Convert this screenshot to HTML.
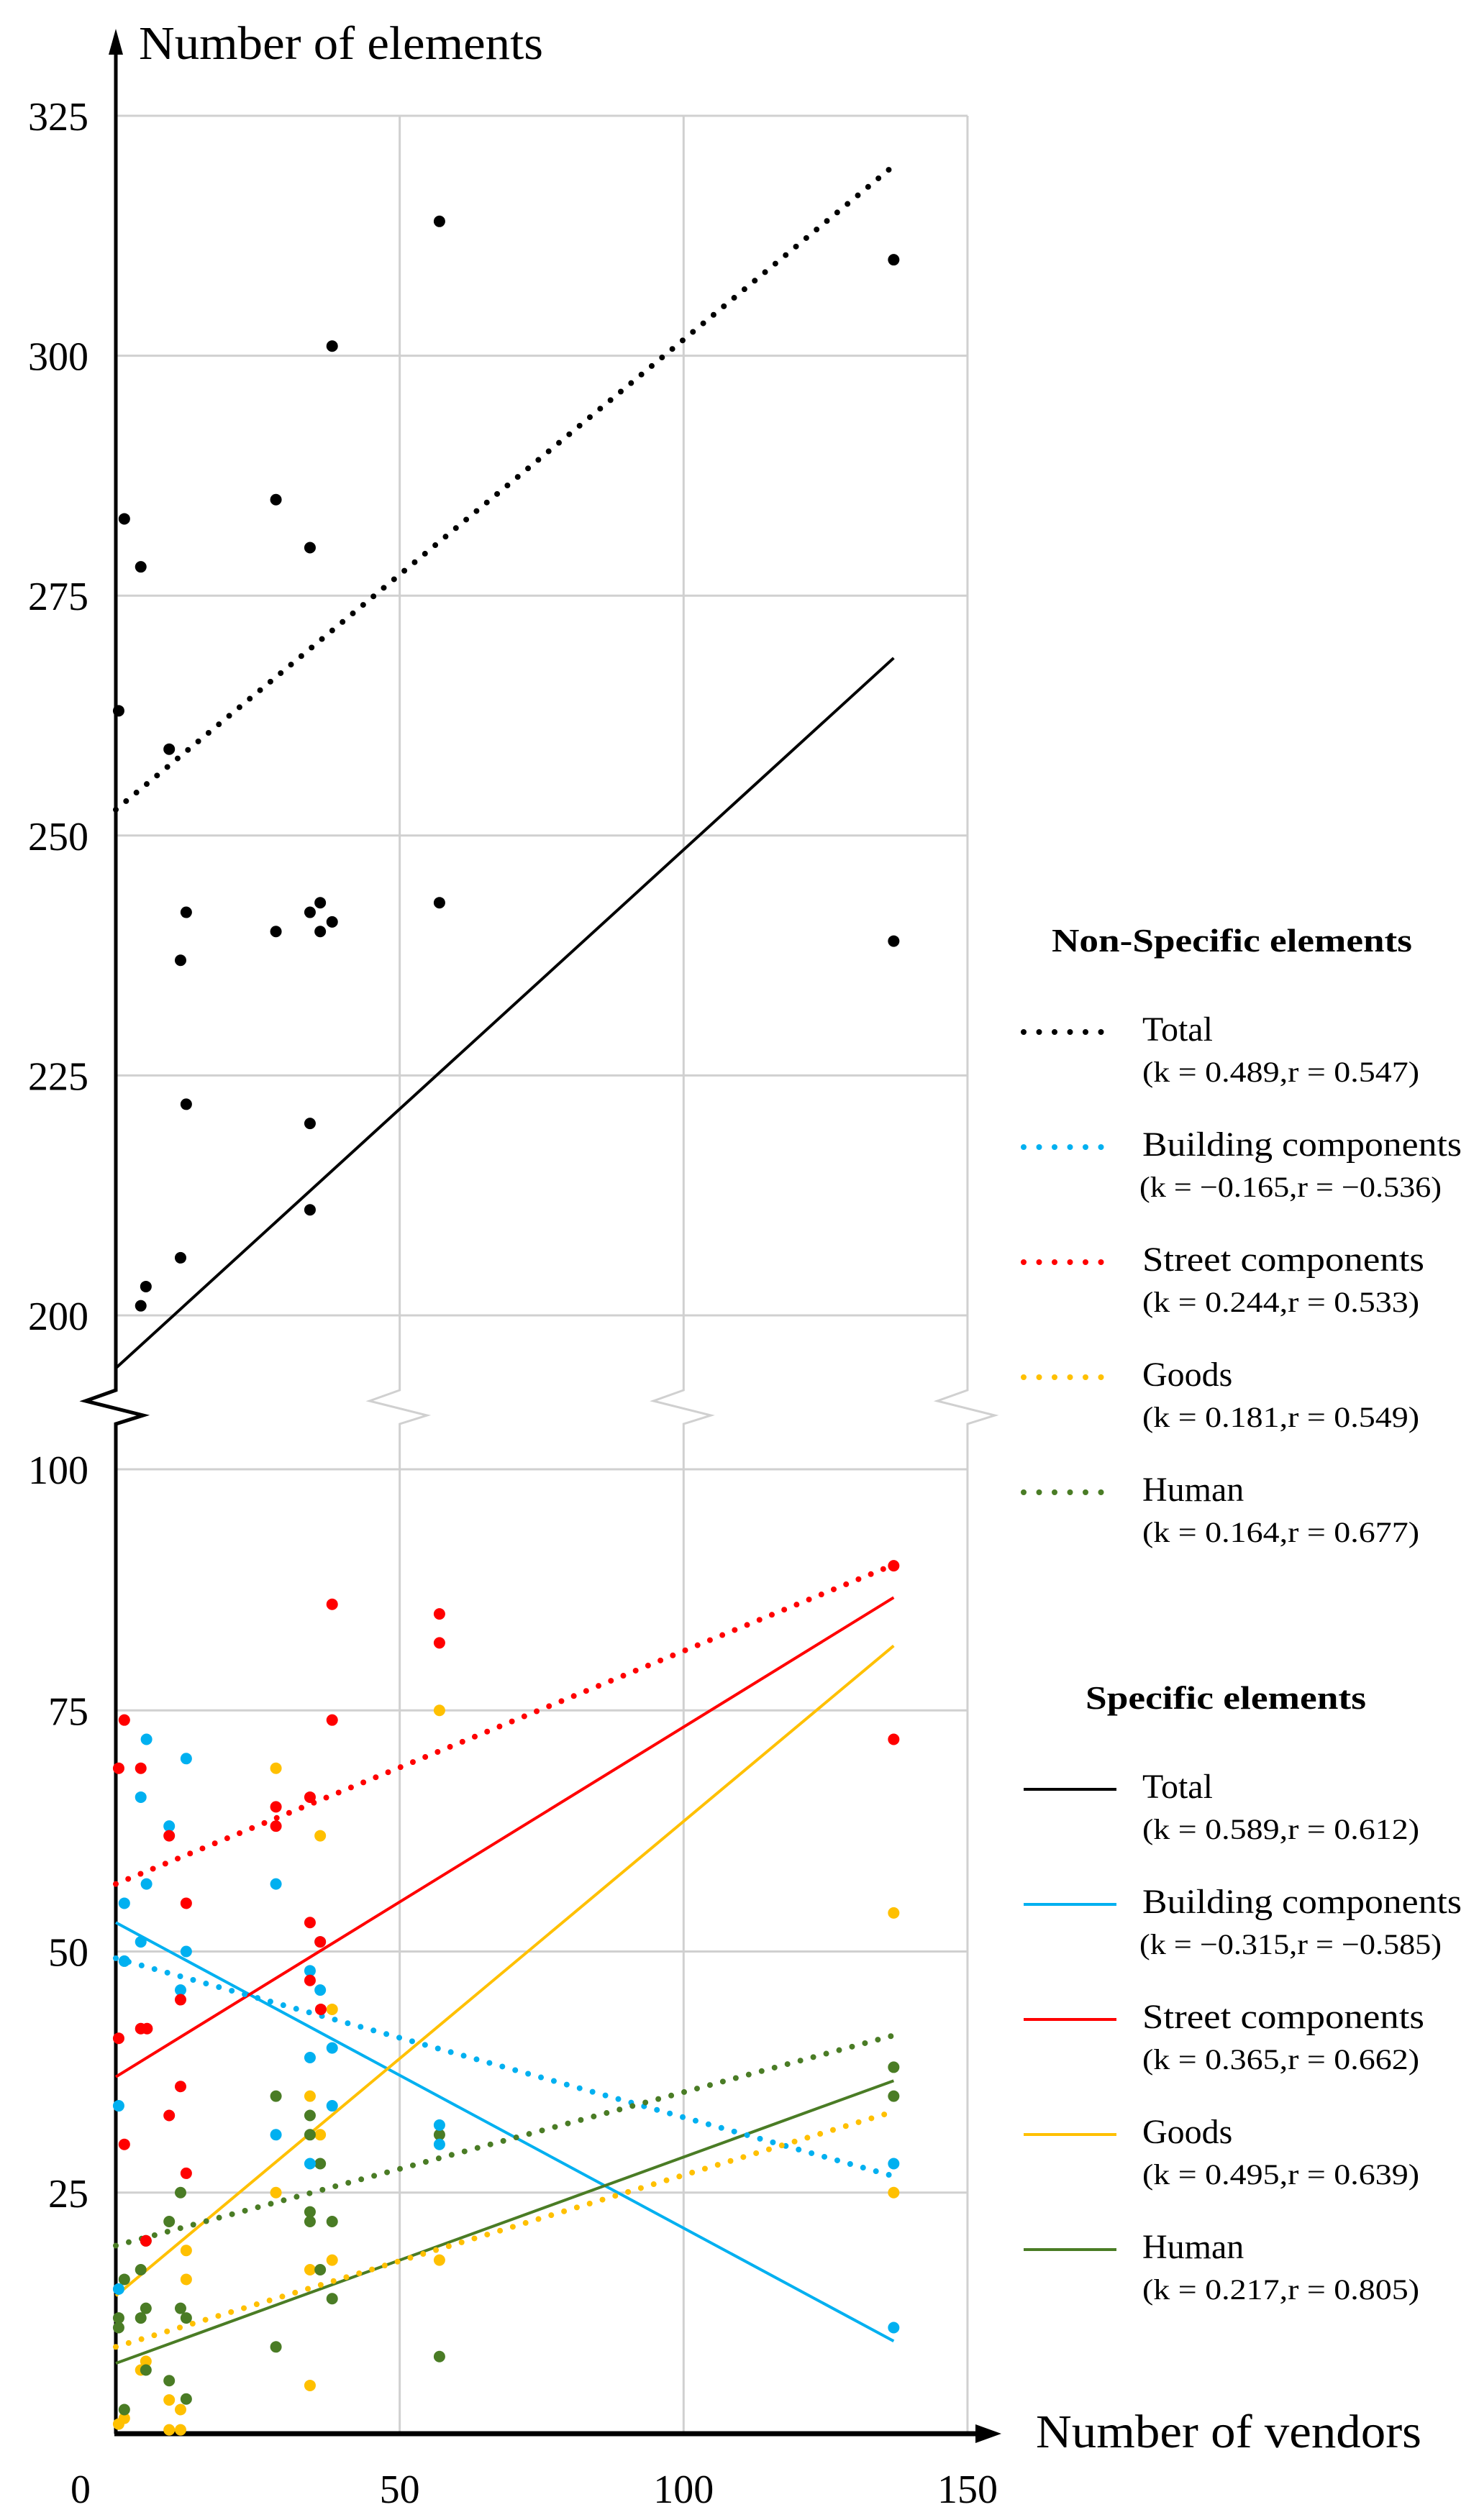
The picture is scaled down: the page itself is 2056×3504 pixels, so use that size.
<!DOCTYPE html>
<html><head><meta charset="utf-8"><style>
html,body{margin:0;padding:0;background:#fff}
svg{display:block}
text{font-family:"Liberation Serif",serif;fill:#000}
</style></head>
<body>
<svg id="chart" width="2056" height="3504" viewBox="0 0 2056 3504" xmlns="http://www.w3.org/2000/svg">
<g id="grid"></g>
<g id="axes"></g>
<g id="trends"></g>
<g id="points"></g>
<g id="legend"></g>
</svg>
<script>
// ---- data ----
const xTicks = [0, 50, 100, 150];
const upperYTicks = [325, 300, 275, 250, 225, 200];
const lowerYTicks = [100, 75, 50, 25];
const trendX = [0, 137];

const totalX = [0.5,1.5,4.4,9.4,4.4,5.3,11.4,11.4,12.4,12.4,28.2,28.2,34.2,34.2,34.2,34.2,36,36,38.1,38.1,57,57,137,137];
const totalY = [263,283,278,259,201,203,206,237,242,222,285,240,280,242,220,211,243,240,301,241,314,243,310,239];

const streetX = [38.1,57,57,1.5,38.1,0.5,4.4,28.2,34.2,28.2,9.4,12.4,34.2,34.2,36,11.4,4.4,5.5,0.5,36.1,11.4,9.4,1.5,12.4,5.3,137,137];
const streetY = [86,85,82,74,74,69,69,65,66,63,62,55,53,47,51,45,42,42,41,44,36,33,30,27,20,72,90];

const buildingX = [5.4,12.4,4.4,9.4,5.4,28.2,1.5,4.4,12.4,1.5,36,34.2,36,11.4,38.1,34.2,0.5,38.1,28.2,34.2,57,57,0.5,137,137];
const buildingY = [72,70,66,63,57,57,55,51,50,49,51,48,46,46,40,39,34,34,31,28,32,30,15,28,11];

const goodsX = [57,28.2,36,38.1,34.2,36,28.2,12.4,12.4,34.2,38.1,57,5.3,4.4,34.2,9.4,11.4,1.5,0.5,9.4,11.4,137,137];
const goodsY = [75,69,62,44,35,31,25,19,16,17,18,18,7.5,6.6,5,3.5,2.5,1.6,1,0.4,0.4,54,25];

const humanX = [28.2,34.2,34.2,36,11.4,9.4,34.2,34.2,38.1,57,4.4,1.5,36,5.3,11.4,4.4,12.4,0.5,0.5,38.1,28.2,57,5.3,9.4,12.4,1.5,5.3,137,137];
const humanY = [35,33,31,28,25,22,23,22,22,31,17,16,17,13,13,12,12,12,11,14,9,8,6.6,5.5,3.6,2.5,20,38,35];

// trend line values at trendX[0], trendX[1]
const upperTotalDotted = [252.7, 319.8];
const upperTotalSolid = [194.5, 268.5];
const streetDotted = [57.0, 90.1];
const streetSolid = [37.0, 86.7];
const buildingDotted = [49.3, 26.7];
const buildingSolid = [53.0, 9.6];
const goodsDotted = [9.0, 33.4];
const goodsSolid = [14.3, 81.7];
const humanDotted = [19.5, 41.3];
const humanSolid = [7.3, 36.6];

const legendNonSpecific = ["Total","Building components","Street components","Goods","Human"];
const legendNonSpecificStats = ["(k = 0.489,r = 0.547)","(k = \u22120.165,r = \u22120.536)","(k = 0.244,r = 0.533)","(k = 0.181,r = 0.549)","(k = 0.164,r = 0.677)"];
const legendSpecificStats = ["(k = 0.589,r = 0.612)","(k = \u22120.315,r = \u22120.585)","(k = 0.365,r = 0.662)","(k = 0.495,r = 0.639)","(k = 0.217,r = 0.805)"];

// ---- scales ----
const NS = "http://www.w3.org/2000/svg";
const X0 = 161, XPER = 7.893;
const sx = v => X0 + v * XPER;
const syU = v => 161 + (325 - v) * 13.344;
const syL = v => 3384 - v * 13.41;
const BREAK_TOP = 1933, BREAK_BOT = 1980, AXIS_Y = 3384;
const COL = {black:"#000", blue:"#00b0f0", red:"#ff0000", yellow:"#ffc000", green:"#4a7c25"};

function mk(tag, attrs, parent) {
  const e = document.createElementNS(NS, tag);
  for (const k in attrs) e.setAttribute(k, attrs[k]);
  parent.appendChild(e);
  return e;
}
const grid = document.getElementById('grid');
const axes = document.getElementById('axes');
const trends = document.getElementById('trends');
const points = document.getElementById('points');
const legend = document.getElementById('legend');

// ---- gridlines ----
upperYTicks.forEach(v => {
  const l = mk('line', {x1: X0, x2: sx(150), y1: syU(v), y2: syU(v), stroke: '#d0d0d0', 'stroke-width': 3}, grid);
  
  
  const t = mk('text', {x: 123, y: syU(v) + 20, 'text-anchor': 'end', 'font-size': 56}, axes);
  t.textContent = v;
  
  
});
lowerYTicks.forEach(v => {
  const l = mk('line', {x1: X0, x2: sx(150), y1: syL(v), y2: syL(v), stroke: '#d0d0d0', 'stroke-width': 3}, grid);
  
  
  const t = mk('text', {x: 123, y: syL(v) + 20, 'text-anchor': 'end', 'font-size': 56}, axes);
  t.textContent = v;
  
  
});
xTicks.forEach(v => {
  const x = sx(v);
  if (v > 0) {
    const p = mk('path', {d: `M${x},${syU(325)} L${x},${BREAK_TOP} L${x-42},${BREAK_TOP+15} L${x+38},${BREAK_BOT-12} L${x},${BREAK_BOT} L${x},${AXIS_Y}`, fill: 'none', stroke: '#d0d0d0', 'stroke-width': 3}, grid);
    
    
  }
  const t = mk('text', {x: v === 0 ? 112 : x, y: 3480, 'text-anchor': 'middle', 'font-size': 56}, axes);
  t.textContent = v;
  
  
});

// ---- axes ----
const ya = mk('path', {d: `M${X0},${AXIS_Y} L${X0},${BREAK_BOT} L${X0+38},${BREAK_BOT-12} L${X0-42},${BREAK_TOP+15} L${X0},${BREAK_TOP} L${X0},70`, fill: 'none', stroke: '#000', 'stroke-width': 5}, axes);


const yh = mk('polygon', {points: `${X0},40 ${X0-10},76 ${X0+10},76`, fill: '#000'}, axes);


const xa = mk('line', {x1: X0 - 2, x2: 1362, y1: AXIS_Y, y2: AXIS_Y, stroke: '#000', 'stroke-width': 7}, axes);


const xh = mk('polygon', {points: `1392,${AXIS_Y} 1356,${AXIS_Y-13} 1356,${AXIS_Y+13}`, fill: '#000'}, axes);


const yt = mk('text', {x: 193, y: 82, 'font-size': 66, textLength: 562, lengthAdjust: 'spacingAndGlyphs'}, axes);
yt.textContent = 'Number of elements';


const xt = mk('text', {x: 1440, y: 3403, 'font-size': 66, textLength: 536, lengthAdjust: 'spacingAndGlyphs'}, axes);
xt.textContent = 'Number of vendors';



// ---- trend lines ----
function trend(vals, sy, color, dotted, name) {
  const a = {x1: sx(trendX[0]), y1: sy(vals[0]), x2: sx(trendX[1]), y2: sy(vals[1]), stroke: color};
  if (dotted) { a['stroke-width'] = 8; a['stroke-linecap'] = 'round'; a['stroke-dasharray'] = '0 18.6'; }
  else { a['stroke-width'] = 4; }
  const l = mk('line', a, trends);
  
  
}
trend(upperTotalSolid, syU, COL.black, false, 'trend-total-specific');
trend(upperTotalDotted, syU, COL.black, true, 'trend-total-nonspecific');
trend(buildingSolid, syL, COL.blue, false, 'trend-building-specific');
trend(streetSolid, syL, COL.red, false, 'trend-street-specific');
trend(goodsSolid, syL, COL.yellow, false, 'trend-goods-specific');
trend(humanSolid, syL, COL.green, false, 'trend-human-specific');
trend(streetDotted, syL, COL.red, true, 'trend-street-nonspecific');
trend(buildingDotted, syL, COL.blue, true, 'trend-building-nonspecific');
trend(goodsDotted, syL, COL.yellow, true, 'trend-goods-nonspecific');
trend(humanDotted, syL, COL.green, true, 'trend-human-nonspecific');

// ---- points ----
function pts(xs, ys, sy, color, name) {
  xs.forEach((x, i) => {
    const c = mk('circle', {cx: sx(x), cy: sy(ys[i]), r: 8, fill: color}, points);
    
    
  });
}
pts(totalX, totalY, syU, COL.black, 'total');
pts(goodsX, goodsY, syL, COL.yellow, 'goods');
pts(humanX, humanY, syL, COL.green, 'human');
pts(buildingX, buildingY, syL, COL.blue, 'building');
pts(streetX, streetY, syL, COL.red, 'street');

// ---- legend ----
const legendColors = [COL.black, COL.blue, COL.red, COL.yellow, COL.green];
const statWidths = [385, 420, 385, 385, 385];
const labelWidths = [null, 444, 392, null, null];
function legendBlock(title, titleX, titleW, titleY, dotted, stats, prefix) {
  const h = mk('text', {x: titleX, y: titleY, 'font-size': 46, 'font-weight': 'bold', textLength: titleW, lengthAdjust: 'spacingAndGlyphs'}, legend);
  h.textContent = title;
  
  
  legendNonSpecific.forEach((lab, i) => {
    const ly = titleY + 112 + i * 160;
    const a = {x1: 1423, x2: 1552, y1: ly, y2: ly, stroke: legendColors[i]};
    if (dotted) { a['stroke-width'] = 8; a['stroke-linecap'] = 'round'; a['stroke-dasharray'] = '0 21.5'; }
    else { a['stroke-width'] = 4; }
    const l = mk('line', a, legend);
    
    
    const ta = {x: 1588, y: ly + 12, 'font-size': 48};
    if (labelWidths[i]) { ta.textLength = labelWidths[i]; ta.lengthAdjust = 'spacingAndGlyphs'; }
    const t = mk('text', ta, legend);
    t.textContent = lab;
    
    
    const s = mk('text', {x: i === 1 ? 1584 : 1588, y: ly + 69, 'font-size': 40, textLength: statWidths[i], lengthAdjust: 'spacingAndGlyphs'}, legend);
    s.textContent = stats[i];
    
    
  });
}
legendBlock('Non-Specific elements', 1462, 501, 1323, true, legendNonSpecificStats, 'nonspecific');
legendBlock('Specific elements', 1509, 390, 2376, false, legendSpecificStats, 'specific');
</script>
</body></html>
